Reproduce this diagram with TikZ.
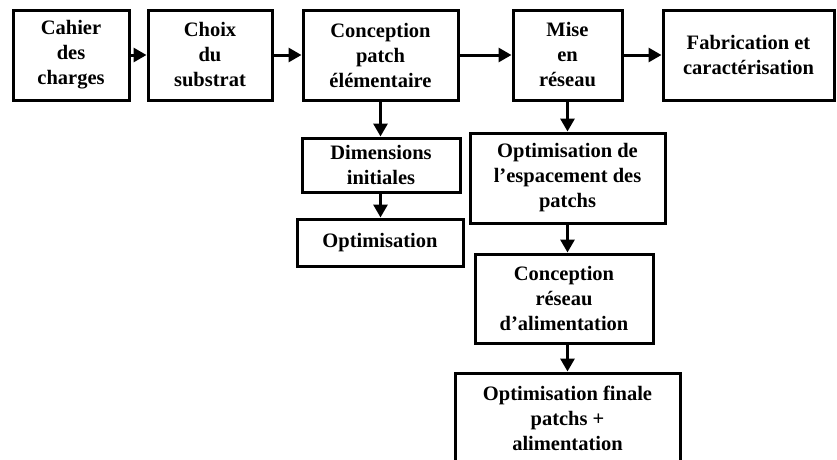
\documentclass[tikz,border=0pt]{standalone}
\usepackage{fontspec}
\setmainfont{Liberation Serif}
\usetikzlibrary{arrows.meta}

\begin{document}
\begin{tikzpicture}[
  x=1pt, y=-1pt,
  >={Triangle[length=13pt,width=14pt]},
  blk/.style={draw, line width=3pt, inner sep=0pt, align=center,
              minimum height=90pt,
              font=\bfseries\fontsize{20.5}{25}\selectfont},
  arr/.style={->, line width=3pt},
]
\useasboundingbox (0,0) rectangle (837,459);
% Top row
\node[blk, minimum width=116pt] (cahier) at (71, 55)    {Cahier\\des\\charges};
\node[blk, minimum width=124pt] (choix)  at (210, 55)   {Choix\\du\\substrat};
\node[blk, minimum width=155pt] (patch)  at (380.5, 55) {Conception\\patch\\élémentaire};
\node[blk, minimum width=109pt] (mise)   at (567.5, 55) {Mise\\en\\réseau};
\node[blk, minimum width=171pt] (fab)    at (748.5, 55) {Fabrication et\\caractérisation};
% Patch branch
\node[blk, minimum width=158pt, minimum height=54pt] (dim)   at (381, 165)   {Dimensions\\initiales};
\node[blk, minimum width=166pt, minimum height=47pt] (optim) at (380, 242.5) {Optimisation};
% Array branch
\node[blk, minimum width=195pt] (espace) at (567.5, 178) {Optimisation de\\l’espacement des\\patchs};
\node[blk, minimum width=178pt, minimum height=89pt] (alim) at (564, 298.5) {Conception\\réseau\\d’alimentation};
\node[blk, minimum width=225pt] (finale) at (567.5, 418) {Optimisation finale\\patchs +\\alimentation};
% Arrows
\draw[arr] (cahier) -- (choix);
\draw[arr] (choix) -- (patch);
\draw[arr] (patch) -- (mise);
\draw[arr] (mise) -- (fab);
\draw[arr] (patch.south) -- (patch.south |- dim.north);
\draw[arr] (patch.south |- dim.south) -- (patch.south |- optim.north);
\draw[arr] (mise.south) -- (espace.north);
\draw[arr] (espace.south) -- (espace.south |- alim.north);
\draw[arr] (espace.south |- alim.south) -- (finale.north);
\end{tikzpicture}
\end{document}
